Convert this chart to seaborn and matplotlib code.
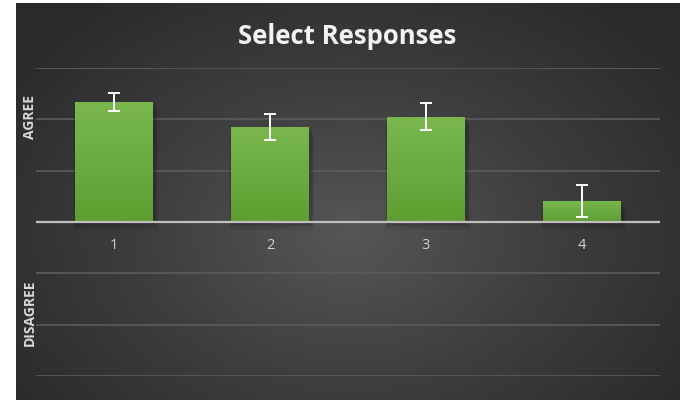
import numpy as np
import pandas as pd
import matplotlib
matplotlib.use("Agg")
import matplotlib.pyplot as plt
import seaborn as sns
from matplotlib.colors import LinearSegmentedColormap

categories = ["1", "2", "3", "4"]
values = [2.34, 1.85, 2.05, 0.41]
errors = [0.18, 0.25, 0.26, 0.31]
y_ticks = [-3, -2, -1, 0, 1, 2, 3]
title = "Select Responses"

sns.set_theme(style="dark")
plt.rcParams['font.family'] = ['Open Sans', 'DejaVu Sans']

fig = plt.figure(figsize=(6.8, 4.0), dpi=100)
fig.patch.set_facecolor("white")

# background panel with radial gradient
bg = fig.add_axes([16/680, 0, 1 - 16/680, 397/400])
bg.set_axis_off()
h, w = 200, 340
yy, xx = np.mgrid[0:h, 0:w]
cx, cy = w * 0.5, h * 0.58
r = np.sqrt(((xx - cx) / (w * 0.62)) ** 2 + ((yy - cy) / (h * 0.75)) ** 2)
r = np.clip(r, 0, 1)
bg_cmap = LinearSegmentedColormap.from_list("bg", ["#565656", "#3e3e3e", "#2a2a2a"])
bg.imshow(r, cmap=bg_cmap, aspect="auto", extent=[0, 1, 0, 1], vmin=0, vmax=1)
bg.set_xlim(0, 1)
bg.set_ylim(0, 1)

ax = fig.add_axes([36/680, 24/400, 624/680, 308/400])
ax.patch.set_alpha(0)
df = pd.DataFrame({"cat": categories, "val": values})
sns.barplot(data=df, x="cat", y="val", ax=ax, color="#6aab3c",
            width=0.5, errorbar=None, saturation=1, linewidth=0)

ax.set_ylim(y_ticks[0], y_ticks[-1])
ax.set_xlim(-0.5, len(categories) - 0.5)

# gradient on bars
bar_cmap = LinearSegmentedColormap.from_list("bar", ["#5e9e31", "#7ab84e"])
grad = np.linspace(0, 1, 100).reshape(-1, 1)
for p in ax.patches:
    x0, y0 = p.get_x(), p.get_y()
    bw, bh = p.get_width(), p.get_height()
    p.set_edgecolor("none")
    # soft shadow
    for k, a in enumerate([0.10, 0.08, 0.06]):
        d = 0.008 * (k + 1)
        ax.add_patch(plt.Rectangle((x0 - d + 0.01, y0 - 0.05 * (k + 1)), bw + 2 * d,
                                   bh, color="black", alpha=a, zorder=1.5, lw=0))
    im = ax.imshow(grad, cmap=bar_cmap, extent=[x0, x0 + bw, y0, y0 + bh],
                   aspect="auto", origin="lower", zorder=2.5)
    im.set_clip_path(p)
    p.set_zorder(2)

for t in y_ticks:
    if t == 0:
        ax.axhline(t, color="#bfbfbf", lw=1.6, zorder=3)
    else:
        ax.axhline(t, color="#5c5c5c", lw=1.2, zorder=1)

ax.errorbar(np.arange(len(categories)), values, yerr=errors, fmt="none",
            ecolor="white", elinewidth=1.4, capsize=4, capthick=1.4, zorder=4)

ax.set_xlabel("")
ax.set_ylabel("")
ax.set_yticks([])
ax.set_xticks([])
for i, c in enumerate(categories):
    ax.text(i, -0.45, c, ha="center", va="center", color="#d0d0d0", fontsize=10.5)
for s in ax.spines.values():
    s.set_visible(False)

fig.text(347/680, 1 - 37/400, title, ha="center", va="center",
         color="#f2f2f2", fontsize=18.5, fontweight="bold")
fig.text(30/680, 1 - 117/400, "AGREE", rotation=90, ha="center", va="center",
         color="#d9d9d9", fontsize=10, fontweight="bold")
fig.text(30/680, 1 - 313/400, "DISAGREE", rotation=90, ha="center", va="center",
         color="#d9d9d9", fontsize=10, fontweight="bold")

fig.savefig("out.png", dpi=100, facecolor=fig.get_facecolor())
